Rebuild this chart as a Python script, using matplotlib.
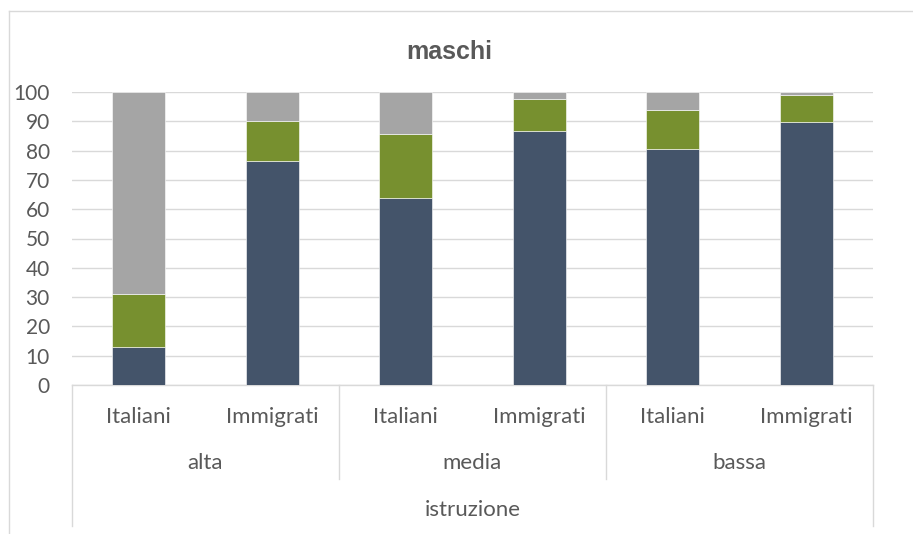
import matplotlib.pyplot as plt
from matplotlib.lines import Line2D

# data (percent, stacked to 100)
gruppi = ['alta', 'media', 'bassa']
origini = ['Italiani', 'Immigrati']
serie_1 = [13.1, 76.5, 63.7, 86.7, 80.5, 89.9]
serie_2 = [18.1, 13.6, 22.1, 10.9, 13.3, 9.1]
serie_3 = [68.8, 9.9, 14.2, 2.4, 6.2, 1.0]
colori = ['#44546A', '#77902F', '#A5A5A5']
titolo = 'maschi'
asse_titolo = 'istruzione'

plt.rcParams['font.family'] = ['Lato', 'DejaVu Sans']
testo = '#595959'
griglia = '#D9D9D9'

fig = plt.figure(figsize=(9.13, 5.34), dpi=100)
W, H = 913, 534
ax = fig.add_axes([72 / W, 1 - 385 / H, (873 - 72) / W, (385 - 92) / H])

etichette = [o for g in gruppi for o in origini]
x = list(range(len(etichette)))
base = [0] * len(x)
for valori, col in zip([serie_1, serie_2, serie_3], colori):
    ax.bar(x, valori, bottom=base, width=0.4, color=col,
           edgecolor='white', linewidth=0.4, zorder=3)
    base = [b + v for b, v in zip(base, valori)]

ax.set_xlim(-0.5, len(x) - 0.5)
ax.set_ylim(0, 100)
ax.set_yticks(range(0, 101, 10))
ax.yaxis.grid(True, color=griglia, linewidth=1.0, zorder=0)
ax.tick_params(axis='y', length=0, pad=16, labelsize=15, labelcolor=testo)
ax.set_xticks(x)
ax.set_xticklabels(etichette)
ax.tick_params(axis='x', length=0, pad=16, labelsize=16, labelcolor=testo)
for s in ['top', 'right', 'left']:
    ax.spines[s].set_visible(False)
ax.spines['bottom'].set_color(griglia)
ax.spines['bottom'].set_linewidth(1.0)

# multi-level category table below the axis
tr = ax.get_xaxis_transform()
y_grp = -(479 - 385) / 293
y_out = -(526 - 385) / 293
for i in range(len(gruppi) + 1):
    xb = i * len(origini) - 0.5
    y_end = y_out if i in (0, len(gruppi)) else y_grp
    ax.add_line(Line2D([xb, xb], [0, y_end], transform=tr, color=griglia,
                       linewidth=1.0, clip_on=False))
for i, g in enumerate(gruppi):
    xc = i * len(origini) + (len(origini) - 1) / 2
    ax.text(xc, -(463 - 385) / 293, g, transform=tr, ha='center', va='center',
            fontsize=16, color=testo)
ax.text((len(x) - 1) / 2, -(510 - 385) / 293, asse_titolo, transform=tr,
        ha='center', va='center', fontsize=16, color=testo)

# chart title and outer border
fig.text(449 / W, 1 - 52 / H, titolo, ha='center', va='center', fontsize=18,
         fontweight='bold', color=testo, family='Liberation Sans')
fig.add_artist(Line2D([9 / W, 9 / W], [0, 1 - 11 / H], color=griglia, linewidth=1.0))
fig.add_artist(Line2D([9 / W, 912 / W], [1 - 11 / H, 1 - 11 / H], color=griglia, linewidth=1.0))

fig.savefig('out.png', dpi=100)
